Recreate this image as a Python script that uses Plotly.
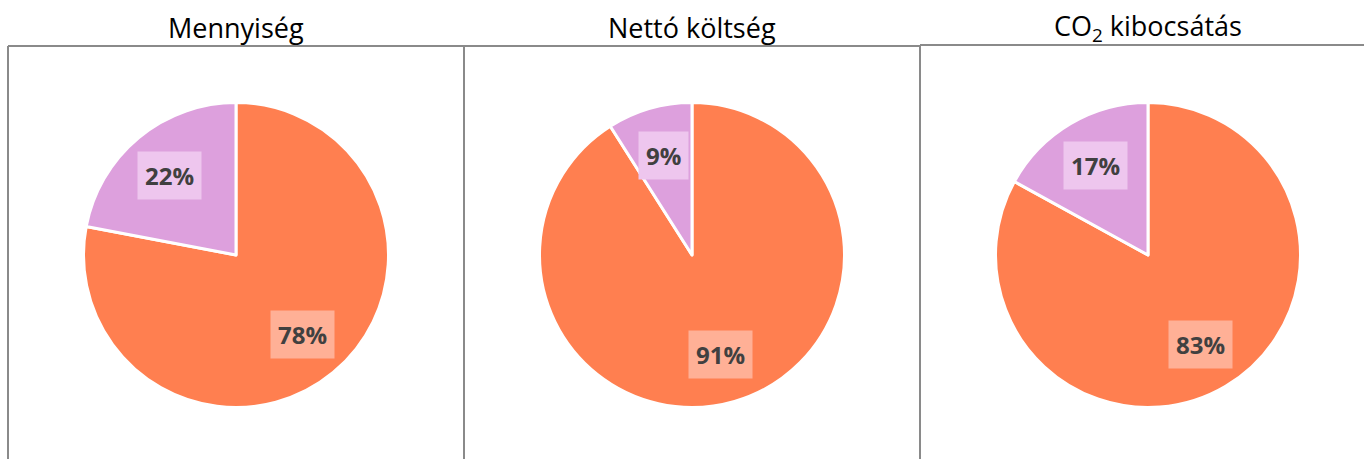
import math
import plotly.graph_objects as go

W, H = 1364, 459

titles = ["Mennyiség", "Nettó költség", "CO<sub>2</sub> kibocsátás"]
categories = ["A", "B"]
shares = [
    [78, 22],
    [91, 9],
    [83, 17],
]
slice_colors = ["#FF7F50", "#DDA0DD"]
label_bg = ["#FFB096", "#EEC6EE"]

centers_px = [236, 692, 1148]
cy_px = 255
radius_px = 152.5
label_frac = 0.68

fig = go.Figure()
annotations = []
for i, (t, vals) in enumerate(zip(titles, shares)):
    cx = centers_px[i]
    x0 = (cx - radius_px) / W
    x1 = (cx + radius_px) / W
    yb = (H - cy_px - radius_px) / H
    yt = (H - cy_px + radius_px) / H
    fig.add_trace(go.Pie(
        labels=categories, values=vals,
        domain=dict(x=[x0, x1], y=[yb, yt]),
        sort=False, direction="clockwise", rotation=0,
        marker=dict(colors=slice_colors, line=dict(color="white", width=3)),
        textinfo="none", hoverinfo="label+percent", showlegend=False,
    ))
    total = sum(vals)
    cum = 0
    for j, v in enumerate(vals):
        mid = (cum + v / 2) / total * 2 * math.pi
        cum += v
        r = radius_px * label_frac
        px = cx + r * math.sin(mid)
        py = cy_px - r * math.cos(mid)
        annotations.append(dict(
            x=px / W, y=1 - py / H, xref="paper", yref="paper",
            text=f"<b>{round(v / total * 100)}%</b>", showarrow=False,
            font=dict(family="Open Sans", size=24, color="#404040"),
            bgcolor=label_bg[j], borderpad=7,
            xanchor="center", yanchor="middle",
        ))
    annotations.append(dict(
        x=cx / W, y=1 - 27 / H, xref="paper", yref="paper",
        text=t, showarrow=False,
        font=dict(family="Open Sans", size=27, color="#000000"),
        xanchor="center", yanchor="middle",
    ))

line = dict(color="#8a8a8a", width=2)
shapes = [
    dict(type="line", xref="paper", yref="paper", x0=8 / W, x1=920 / W, y0=1 - 46 / H, y1=1 - 46 / H, line=line),
    dict(type="line", xref="paper", yref="paper", x0=920 / W, x1=1, y0=1 - 45 / H, y1=1 - 45 / H, line=line),
    dict(type="line", xref="paper", yref="paper", x0=8 / W, x1=8 / W, y0=1 - 46 / H, y1=0, line=line),
    dict(type="line", xref="paper", yref="paper", x0=464 / W, x1=464 / W, y0=1 - 46 / H, y1=0, line=line),
    dict(type="line", xref="paper", yref="paper", x0=920 / W, x1=920 / W, y0=1 - 45 / H, y1=0, line=line),
]

fig.update_layout(
    width=W, height=H,
    margin=dict(l=0, r=0, t=0, b=0),
    paper_bgcolor="white", plot_bgcolor="white",
    annotations=annotations, shapes=shapes,
)
fig.write_html("out.html")
